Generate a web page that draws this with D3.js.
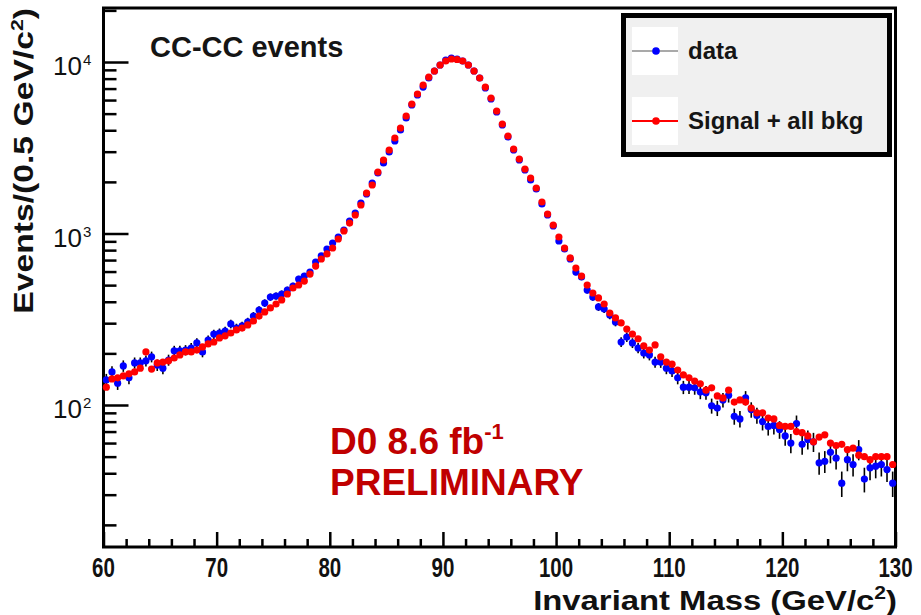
<!DOCTYPE html>
<html lang="en">
<head>
    <meta charset="UTF-8" />
    <title>CC-CC events, invariant mass</title>
    <script src="https://d3js.org/d3.v7.min.js"></script>
    <style>
        body { margin: 0; background: #fff; }
        svg { display: block; font-family: "Liberation Sans", Arial, sans-serif; }
    </style>
</head>
<body>
    <div id="container"></div>

    <script>
        // bins of 0.5 GeV from 60 to 130
        const massRange = [60, 130]
        const binWidth = 0.5

        // observed events per bin (blue)
        const dataCounts = [
            140, 156, 134, 169, 144, 176, 176, 181, 191, 171,
            164, 183, 207, 207, 209, 215, 230, 204, 239, 259,
            263, 270, 297, 281, 289, 305, 330, 358, 393, 426,
            432, 444, 468, 494, 543, 565, 596, 682, 740, 812,
            880, 954, 1048, 1183, 1317, 1506, 1700, 1970, 2253, 2577,
            2987, 3463, 4013, 4716, 5615, 6422, 7147, 8068, 8861, 9605,
            10273, 10551, 10410, 10134, 9605, 8861, 8068, 7052, 6086, 5111,
            4292, 3653, 3069, 2683, 2346, 2051, 1818, 1486, 1282, 1106,
            904, 812, 710, 596, 558, 468, 426, 373, 363, 335,
            305, 233, 249, 230, 215, 201, 196, 178, 178, 164,
            158, 144, 127, 127, 126, 119, 118, 99, 96, 107,
            114, 86, 83, 110, 94, 87, 80, 75, 76, 72,
            66, 60, 78, 59, 63, 61, 46, 47, 53, 49,
            35, 48, 45, 55, 37, 43, 44, 45, 42, 35
        ]

        // signal + all backgrounds prediction per bin (red)
        const modelCounts = [
            127, 142, 144, 148, 152, 156, 164, 204, 162, 176,
            178, 181, 188, 196, 204, 204, 209, 218, 227, 233,
            246, 253, 263, 274, 281, 293, 309, 330, 349, 368,
            388, 410, 444, 481, 501, 528, 580, 646, 710, 760,
            823, 929, 1034, 1151, 1282, 1466, 1723, 1918, 2284, 2683,
            3069, 3606, 4123, 4843, 5690, 6508, 7341, 8177, 8861, 9605,
            10134, 10410, 10340, 10134, 9605, 8861, 8068, 7147, 6168, 5180,
            4350, 3703, 3110, 2719, 2378, 2107, 1842, 1527, 1299, 1121,
            954, 823, 720, 629, 565, 501, 450, 421, 388, 344,
            322, 301, 277, 259, 243, 221, 209, 224, 191, 178,
            173, 160, 150, 144, 138, 133, 122, 126, 113, 110,
            122, 104, 107, 104, 96, 90, 90, 84, 83, 76,
            75, 75, 70, 69, 66, 61, 65, 67, 60, 58,
            59, 55, 56, 51, 50, 48, 50, 50, 50, 45
        ]

        const countRange = [14.86, 20650]
        const xMajorTicks = [60, 70, 80, 90, 100, 110, 120, 130]
        const xMinorTicks = d3.range(62, 130, 2).filter(v => v % 10 !== 0)
        const yMajorTicks = [100, 1000, 10000]
        const yMajorExp = ["2", "3", "4"]
        const yMinorTicks = [20, 30, 40, 50, 60, 70, 80, 90,
            200, 300, 400, 500, 600, 700, 800, 900,
            2000, 3000, 4000, 5000, 6000, 7000, 8000, 9000, 20000]
        const legendLabels = ["data", "Signal + all bkg"]
        const legendColors = ["#0000ff", "#ff0000"]
        const legendLineColors = ["#555", "#ff0000"]

        const width = 921
        const height = 615
        const plot = { left: 103.5, right: 895.5, top: 8, bottom: 547 }

        const svg = d3.select("#container")
            .append("svg")
            .attr("width", width)
            .attr("height", height)
            .attr("viewBox", [0, 0, width, height])

        const x = d3.scaleLinear()
            .domain(massRange)
            .range([plot.left, plot.right])

        const y = d3.scaleLog()
            .domain(countRange)
            .range([plot.bottom, plot.top])

        const centers = dataCounts.map((d, i) => massRange[0] + binWidth * (i + 0.5))

        // stretch a text element horizontally (in its own frame) to a target width
        function fitWidth(g, target) {
            const w = g.select("text").node().getBBox().width
            return target / w
        }

        // ticks, pointing inwards like ROOT
        const tickStyle = g => g
            .call(g => g.select(".domain").remove())
            .call(g => g.selectAll(".tick line").attr("stroke", "#000").attr("stroke-width", 2.5))

        svg.append("g")
            .attr("transform", `translate(0,${plot.bottom})`)
            .call(d3.axisBottom(x).tickValues(xMajorTicks).tickSize(-15).tickFormat(""))
            .call(tickStyle)
        svg.append("g")
            .attr("transform", `translate(0,${plot.bottom})`)
            .call(d3.axisBottom(x).tickValues(xMinorTicks).tickSize(-8).tickFormat(""))
            .call(tickStyle)
        svg.append("g")
            .attr("transform", `translate(${plot.left},0)`)
            .call(d3.axisLeft(y).tickValues(yMajorTicks).tickSize(-25).tickFormat(""))
            .call(tickStyle)
        svg.append("g")
            .attr("transform", `translate(${plot.left},0)`)
            .call(d3.axisLeft(y).tickValues(yMinorTicks).tickSize(-13).tickFormat(""))
            .call(tickStyle)

        // frame
        svg.append("rect")
            .attr("x", plot.left)
            .attr("y", plot.top)
            .attr("width", plot.right - plot.left)
            .attr("height", plot.bottom - plot.top)
            .attr("fill", "none")
            .attr("stroke", "#000")
            .attr("stroke-width", 3)

        // x tick labels (condensed)
        xMajorTicks.forEach(t => {
            const g = svg.append("g")
            g.append("text")
                .attr("text-anchor", "middle")
                .attr("font-size", 27)
                .attr("font-weight", "bold")
                .attr("fill", "#111")
                .text(t)
            g.attr("transform", `translate(${x(t)},577) scale(0.76,1)`)
        })

        // y tick labels 10^n
        yMajorTicks.forEach((t, i) => {
            svg.append("text")
                .attr("x", 82)
                .attr("y", y(t) + 13)
                .attr("text-anchor", "end")
                .attr("font-size", 26)
                .attr("fill", "#111")
                .text("10")
            svg.append("text")
                .attr("x", 83)
                .attr("y", y(t) + 3)
                .attr("font-size", 15)
                .attr("fill", "#111")
                .text(yMajorExp[i])
        })

        // axis titles
        const xTitle = svg.append("g")
        const xt = xTitle.append("text")
            .attr("text-anchor", "end")
            .attr("font-size", 28)
            .attr("font-weight", "bold")
            .attr("fill", "#111")
        xt.append("tspan").text("Invariant Mass (GeV/c")
        xt.append("tspan").attr("font-size", 18).attr("dy", -11).text("2")
        xt.append("tspan").attr("dy", 11).text(")")
        xTitle.attr("transform", `translate(897,610) scale(${fitWidth(xTitle, 364)},1)`)

        const yTitle = svg.append("g")
        const yt = yTitle.append("text")
            .attr("text-anchor", "end")
            .attr("font-size", 27)
            .attr("font-weight", "bold")
            .attr("fill", "#111")
        yt.append("tspan").text("Events/(0.5 GeV/c")
        yt.append("tspan").attr("font-size", 17).attr("dy", -10).text("2")
        yt.append("tspan").attr("dy", 10).text(")")
        yTitle.attr("transform", `translate(33,8) rotate(-90) scale(${fitWidth(yTitle, 306)},1)`)

        // data error bars (Poisson)
        svg.append("g")
            .selectAll("line")
            .data(dataCounts)
            .join("line")
            .attr("x1", (d, i) => x(centers[i]))
            .attr("x2", (d, i) => x(centers[i]))
            .attr("y1", d => y(d + Math.sqrt(d)))
            .attr("y2", d => y(d - Math.sqrt(d)))
            .attr("stroke", "#000")
            .attr("stroke-width", 1.6)

        svg.append("g")
            .selectAll("circle")
            .data(dataCounts)
            .join("circle")
            .attr("cx", (d, i) => x(centers[i]))
            .attr("cy", d => y(d))
            .attr("r", 3.6)
            .attr("fill", "#0000ff")

        svg.append("g")
            .selectAll("circle")
            .data(modelCounts)
            .join("circle")
            .attr("cx", (d, i) => x(centers[i]))
            .attr("cy", d => y(d))
            .attr("r", 3.6)
            .attr("fill", "#ff0000")

        // plot labels
        svg.append("text")
            .attr("x", 150)
            .attr("y", 57)
            .attr("font-size", 29)
            .attr("font-weight", "bold")
            .attr("fill", "#151515")
            .text("CC-CC events")

        const d0 = svg.append("text")
            .attr("x", 330)
            .attr("y", 454)
            .attr("font-size", 37)
            .attr("font-weight", "bold")
            .attr("fill", "#c00000")
        d0.append("tspan").text("D0 8.6 fb")
        d0.append("tspan").attr("font-size", 22).attr("dy", -15).text("-1")

        svg.append("text")
            .attr("x", 330)
            .attr("y", 495)
            .attr("font-size", 37)
            .attr("font-weight", "bold")
            .attr("fill", "#c00000")
            .text("PRELIMINARY")

        // legend
        const legend = svg.append("g")
        legend.append("rect")
            .attr("x", 623.5)
            .attr("y", 15.5)
            .attr("width", 266)
            .attr("height", 139)
            .attr("fill", "#f0f0f0")
            .attr("stroke", "#000")
            .attr("stroke-width", 5)

        const rows = legend.selectAll("g.row")
            .data(legendLabels)
            .join("g")
            .attr("class", "row")
            .attr("transform", (d, i) => `translate(0,${[51, 121][i]})`)

        rows.append("rect")
            .attr("x", 632)
            .attr("y", -24)
            .attr("width", 46)
            .attr("height", 48)
            .attr("fill", "#fff")
        rows.append("line")
            .attr("x1", 632)
            .attr("x2", 678)
            .attr("stroke", (d, i) => legendLineColors[i])
            .attr("stroke-width", (d, i) => i === 0 ? 1.2 : 2)
        rows.append("circle")
            .attr("cx", 656)
            .attr("r", 3.8)
            .attr("fill", (d, i) => legendColors[i])
        rows.append("text")
            .attr("x", 688)
            .attr("y", 8)
            .attr("font-size", 24)
            .attr("font-weight", "bold")
            .attr("fill", "#151515")
            .text(d => d)
    </script>
</body>
</html>
